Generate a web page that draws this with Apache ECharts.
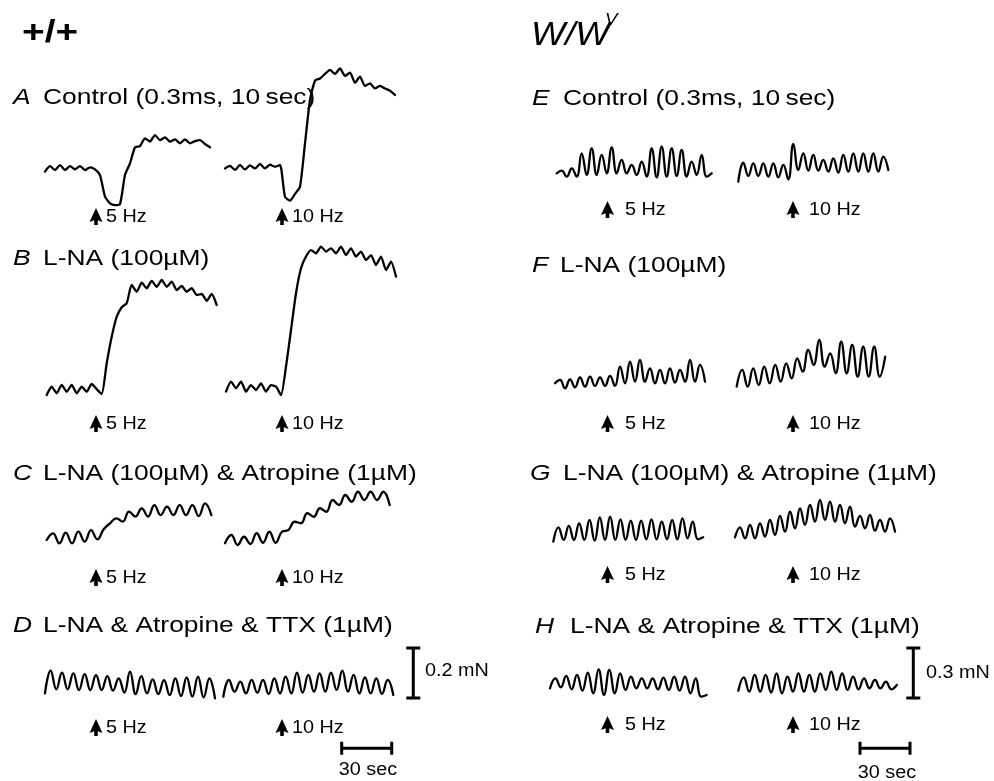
<!DOCTYPE html>
<html><head><meta charset="utf-8">
<script src="https://cdn.jsdelivr.net/npm/echarts@6/dist/echarts.min.js"></script>
<style>html,body{margin:0;padding:0;background:#fff}#c{width:994px;height:781px}</style>
</head><body><div id="c"></div>
<script>
// ---------------- DATA (force in mN, sampled every SAMPLE_S seconds) ----------------
const A_5Hz  = [-0.013,0.009,-0.007,0.013,-0.007,0.009,-0.004,0.009,-0.007,0.004,-0.004,-0.027,-0.113,-0.140,-0.147,-0.143,-0.027,0.020,0.084,0.089,0.120,0.107,0.133,0.113,0.124,0.107,0.116,0.100,0.116,0.100,0.109,0.113,0.097,0.084];
const A_10Hz = [-0.007,0.003,-0.013,0.007,-0.011,0.005,-0.007,0.011,-0.007,0.008,0,0.007,-0.120,-0.136,-0.109,-0.080,0.093,0.267,0.344,0.353,0.371,0.387,0.371,0.393,0.363,0.376,0.336,0.360,0.323,0.333,0.313,0.323,0.313,0.304,0.287];
const B_5Hz  = [-0.020,0.013,-0.013,0.020,-0.007,0.020,-0.013,0.013,-0.007,0.024,0.003,-0.016,0.107,0.213,0.293,0.331,0.347,0.420,0.393,0.429,0.407,0.436,0.413,0.440,0.413,0.433,0.400,0.416,0.393,0.407,0.380,0.384,0.357,0.384,0.340];
const B_10Hz = [-0.013,0.027,0,0.027,-0.013,0.013,-0.007,0.020,-0.013,0.013,0.007,-0.027,0.087,0.233,0.380,0.480,0.527,0.553,0.540,0.567,0.547,0.560,0.540,0.567,0.533,0.560,0.527,0.547,0.513,0.533,0.493,0.527,0.473,0.507,0.447];
const C_5Hz  = [-0.007,0.020,-0.020,0.023,-0.020,0.027,-0.013,0.033,-0.004,0.036,0.060,0.080,0.067,0.107,0.087,0.120,0.087,0.133,0.093,0.127,0.093,0.133,0.093,0.133,0.089,0.140,0.093];
const C_10Hz = [-0.013,0.020,-0.020,0.013,-0.016,0.027,-0.011,0.033,-0.011,0.033,0.040,0.073,0.067,0.107,0.093,0.127,0.113,0.160,0.140,0.180,0.153,0.193,0.160,0.193,0.160,0.193,0.140];
const D_5Hz  = [-0.040,0.051,-0.024,0.043,-0.024,0.040,-0.027,0.037,-0.027,0.033,-0.027,0.029,-0.029,0.020,-0.037,0.047,-0.043,0.029,-0.040,0.016,-0.043,0.013,-0.047,0.020,-0.051,0.024,-0.053,0.027,-0.056,0.020,-0.060];
const D_10Hz = [-0.040,0.027,-0.020,0.020,-0.027,0.027,-0.024,0.027,-0.029,0.033,-0.027,0.040,-0.027,0.056,-0.024,0.047,-0.020,0.053,-0.020,0.056,-0.013,0.064,-0.020,0.047,-0.027,0.037,-0.027,0.033,-0.029,0.027,-0.033];
const E_5Hz  = [0,0.016,-0.020,0.030,-0.020,0.120,-0.010,0.150,-0.010,0.110,0,0.156,0,0.080,0,0.050,-0.010,0.070,-0.020,0.150,-0.024,0.160,-0.020,0.150,-0.016,0.140,-0.020,0.070,-0.010,0.110,-0.020,0];
const E_10Hz = [-0.050,0.064,-0.016,0.060,-0.016,0.060,-0.020,0.060,-0.024,0.050,-0.036,0.176,0.020,0.120,0.016,0.110,0.016,0.080,0.010,0.090,0.004,0.110,0.010,0.120,0.010,0.120,0.010,0.120,0.010,0.100,0.020];
const F_5Hz  = [0,0.020,-0.030,0.024,-0.024,0.036,-0.020,0.040,-0.016,0.036,-0.016,0.044,-0.016,0.100,0,0.130,0.010,0.140,0.010,0.090,0,0.080,0,0.090,0.004,0.080,0.010,0.140,0.010,0.110,0.010];
const F_10Hz = [-0.020,0.080,-0.020,0.090,-0.010,0.100,0,0.110,0.010,0.120,0.030,0.150,0.070,0.200,0.110,0.260,0.100,0.180,0.060,0.250,0.060,0.230,0.040,0.220,0.040,0.220,0.040,0.160];
const G_5Hz  = [-0.050,0.036,-0.040,0.044,-0.040,0.060,-0.040,0.080,-0.044,0.096,-0.040,0.100,-0.040,0.084,-0.040,0.076,-0.040,0.076,-0.036,0.084,-0.036,0.070,-0.036,0.080,-0.036,0.090,-0.030,0.070,-0.036,-0.024];
const G_10Hz = [-0.024,0.036,-0.030,0.050,-0.030,0.060,-0.020,0.080,-0.010,0.104,0.010,0.130,0.030,0.150,0.050,0.170,0.070,0.200,0.080,0.190,0.070,0.170,0.060,0.160,0.040,0.104,0.030,0.110,0.016,0.080,0.010,0.090,0.010];
const H_5Hz  = [-0.030,0.030,-0.024,0.044,-0.036,0.050,-0.044,0.064,-0.060,0.084,-0.070,0.080,-0.060,0.060,-0.040,0.040,-0.030,0.030,-0.030,0.030,-0.036,0.034,-0.040,0.040,-0.044,0.040,-0.060,0.030,-0.080,-0.070];
const H_10Hz = [-0.044,0.036,-0.050,0.050,-0.050,0.050,-0.056,0.060,-0.060,0.040,-0.050,0.060,-0.050,0.050,-0.050,0.060,-0.040,0.070,-0.040,0.060,-0.040,0.040,-0.036,0.030,-0.030,0.020,-0.030,0.010,-0.036,-0.010];

const TRACES   = [A_5Hz,A_10Hz,B_5Hz,B_10Hz,C_5Hz,C_10Hz,D_5Hz,D_10Hz,E_5Hz,E_10Hz,F_5Hz,F_10Hz,G_5Hz,G_10Hz,H_5Hz,H_10Hz];
const SAMPLE_S = [3,3,3,3,3.8,3.8,3.4,3.4,3,3,3,3.3,3.1,3,3.24,3.28];

const genotypes    = ['+/+', 'W/W'];
const genoSup      = 'V';
const panelLetters = ['A','B','C','D','E','F','G','H'];
const panelTitles  = ['Control (0.3ms, 10\u2009sec)','L-NA (100\u00b5M)','L-NA (100\u00b5M) & Atropine (1\u00b5M)','L-NA & Atropine & TTX (1\u00b5M)',
                      'Control (0.3ms, 10\u2009sec)','L-NA (100\u00b5M)','L-NA (100\u00b5M) & Atropine (1\u00b5M)','L-NA & Atropine & TTX (1\u00b5M)'];
const stimLabels   = ['5 Hz','10 Hz'];
const forceBarMN   = [0.2, 0.3];     // left, right
const forceBarText = ['0.2 mN','0.3 mN'];
const timeBarS     = 30;
const timeBarText  = '30 sec';

// ---------------- LAYOUT / STYLE ----------------
const PX_PER_S = 50/30;
const PPM = [250, 500/3];           // px per mN, left / right columns
// [x0, baseline y, column, smooth]
const TRACE_POS = [
 [45,168.3,0,0.2],[225,166.7,0,0.2],[46.7,390,0,0.2],[226,388.3,0,0.2],
 [46.7,538.3,0,0.45],[225,540,0,0.45],[45,683.3,0,0.45],[223.3,686.7,0,0.45],
 [556.7,173.3,1,0.45],[738.3,173.3,1,0.45],[555,383.3,1,0.45],[736.7,383.3,1,0.45],
 [553.3,533.3,1,0.45],[735,533.3,1,0.45],[550,683.3,1,0.45],[738.3,683.3,1,0.45]];
const FONT = "'Liberation Sans', Arial, sans-serif";
const LINE_W = 2.3;

const grids=[], xAxes=[], yAxes=[], series=[];
function addGrid(g, xr, yr){
  const i = grids.length;
  grids.push(Object.assign({containLabel:false, show:false}, g));
  xAxes.push({gridIndex:i,type:'value',min:xr[0],max:xr[1],show:false});
  yAxes.push({gridIndex:i,type:'value',min:yr[0],max:yr[1],show:false});
  return i;
}
const YMIN=-0.25, YMAX=0.65;
TRACES.forEach((vals,ti)=>{
  const [x0,yb,col,sm]=TRACE_POS[ti];
  const dt=SAMPLE_S[ti], dur=(vals.length-1)*dt, ppm=PPM[col];
  const gi=addGrid({left:x0, top:yb-YMAX*ppm, width:dur*PX_PER_S, height:(YMAX-YMIN)*ppm},[0,dur],[YMIN,YMAX]);
  series.push({type:'line',xAxisIndex:gi,yAxisIndex:gi,data:vals.map((v,k)=>[k*dt,v]),
    showSymbol:false,smooth:sm,silent:true,clip:false,lineStyle:{color:'#000',width:LINE_W,join:'round',cap:'round'}});
});
// vertical force scale bars
[[413.3,698],[913.3,698]].forEach(([cx,yb],c)=>{
  const mn=forceBarMN[c], h=mn*PPM[c];
  const gi=addGrid({left:cx-7, top:yb-h, width:14, height:h},[-1,1],[0,mn]);
  series.push({type:'line',xAxisIndex:gi,yAxisIndex:gi,silent:true,showSymbol:false,clip:false,
    data:[[-1,0],[1,0],[0,0],[0,mn],[-1,mn],[1,mn]],lineStyle:{color:'#000',width:3}});
});
// horizontal time scale bars
[[341.7,748.3],[860,748.3]].forEach(([x0,yc])=>{
  const gi=addGrid({left:x0, top:yc-6.5, width:timeBarS*PX_PER_S, height:13},[0,timeBarS],[-1,1]);
  series.push({type:'line',xAxisIndex:gi,yAxisIndex:gi,silent:true,showSymbol:false,clip:false,
    data:[[0,1],[0,-1],[0,0],[timeBarS,0],[timeBarS,1],[timeBarS,-1]],lineStyle:{color:'#000',width:3}});
});

// ---------------- ANNOTATIONS ----------------
const graphic=[];
function txt(s,x,y,size,opt){
  opt=opt||{};
  graphic.push({type:'text',x:x,y:y,scaleX:opt.sx||1.2,silent:true,
    style:{text:s,font:(opt.style||'normal')+' '+(opt.weight||'normal')+' '+size+'px '+FONT,fill:'#000',
    textAlign:opt.align||'left',textVerticalAlign:'middle'}});
}
txt(genotypes[0],22,33,31,{weight:'bold',sx:1.25});
txt(genotypes[1],531,36,33,{style:'italic',sx:1.1});
txt(genoSup,605,20,17,{style:'italic',sx:1.1});
const LET_POS=[[13,98],[13,259],[13,474],[13,626],[532,99],[532,266],[530,474],[535,627]];
const TITLE_X=[43,43,43,43,563,560,563,570];
panelLetters.forEach((L,i)=>{
  txt(L,LET_POS[i][0],LET_POS[i][1],22,{style:'italic',sx:1.2});
  txt(panelTitles[i],TITLE_X[i],LET_POS[i][1],22,{sx:1.2});
});
// stimulus arrows + labels
const STIM_ROWS=[[0,217],[0,424],[0,578],[0,728],[1,210],[1,424],[1,575],[1,725]];
const ARROW_X=[[96,282],[607.5,793]];
const LABEL_X=[[106,292],[625,809]];
const ARROW=[[0,0],[6.5,14],[1.8,12.2],[1.8,17],[-1.8,17],[-1.8,12.2],[-6.5,14]];
STIM_ROWS.forEach(([c,y])=>{
  for(let j=0;j<2;j++){
    graphic.push({type:'polygon',x:ARROW_X[c][j],y:y-9,silent:true,shape:{points:ARROW},style:{fill:'#000'}});
    txt(stimLabels[j],LABEL_X[c][j],y,18,{sx:1.1});
  }
});
txt(forceBarText[0],425,671,18,{sx:1.1});
txt(forceBarText[1],926,673,18,{sx:1.1});
txt(timeBarText,368,770,18,{sx:1.1,align:'center'});
txt(timeBarText,887,773,18,{sx:1.1,align:'center'});

const chart=echarts.init(document.getElementById('c'),null,{renderer:'canvas'});
chart.setOption({backgroundColor:'#fff',animation:false,grid:grids,xAxis:xAxes,yAxis:yAxes,series:series,graphic:graphic});
</script></body></html>
